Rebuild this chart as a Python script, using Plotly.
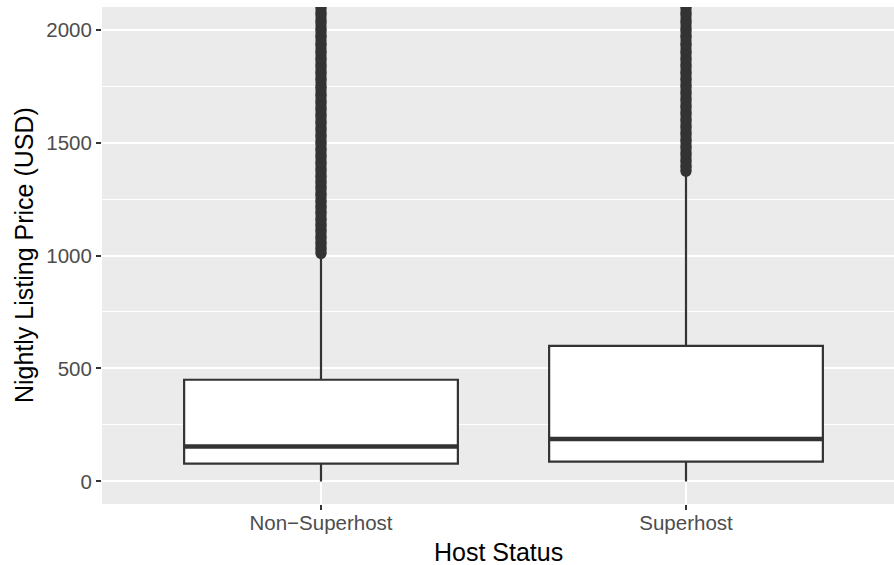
import plotly.graph_objects as go

# Box summary per host group
groups = ["Non\u2212Superhost", "Superhost"]
group_pos = [1, 2]
q1 = [79, 88]
median = [155, 188]
q3 = [450, 600]
lower_fence = [0, 0]
upper_fence = [1002, 1364]

# Outliers (dense, drawn as a solid column of points)
non_super_outliers = [1008, 1030, 1055, 1080, 1110, 1135, 1160, 1190, 1215, 1240,
                      1270, 1300, 1325, 1350, 1380, 1410, 1440, 1470, 1500, 1530,
                      1560, 1590, 1620, 1650, 1680, 1710, 1745, 1780, 1810, 1840,
                      1870, 1900, 1935, 1970, 2000, 2035, 2070, 2100, 2140]
super_outliers = [1372, 1395, 1420, 1450, 1480, 1510, 1540, 1570, 1600, 1630,
                  1660, 1690, 1720, 1750, 1780, 1810, 1840, 1870, 1900, 1935,
                  1970, 2000, 2035, 2070, 2100, 2140]

y_ticks = [0, 500, 1000, 1500, 2000]
y_minor = [250, 750, 1250, 1750]
box_width = 0.75
dark = "#333333"
font = "Liberation Sans, Arial, sans-serif"

fig = go.Figure()

for xs, ys in zip(group_pos, [non_super_outliers, super_outliers]):
    fig.add_trace(go.Scatter(
        x=[xs] * len(ys), y=ys, mode="lines+markers",
        line=dict(color=dark, width=11),
        marker=dict(color=dark, size=11, line=dict(width=0)),
        showlegend=False, hoverinfo="y",
    ))

fig.add_trace(go.Box(
    x=group_pos, q1=q1, median=median, q3=q3,
    lowerfence=lower_fence, upperfence=upper_fence,
    width=box_width, whiskerwidth=0,
    fillcolor="white", line=dict(color=dark, width=2.2),
    boxpoints=False, showlegend=False,
))

# thicker median bar, like ggplot
for xs, m in zip(group_pos, median):
    fig.add_trace(go.Scatter(
        x=[xs - box_width / 2, xs + box_width / 2], y=[m, m], mode="lines",
        line=dict(color=dark, width=4.5), showlegend=False, hoverinfo="skip",
    ))

fig.update_layout(
    width=894, height=565,
    margin=dict(l=102, r=0, t=7, b=61),
    paper_bgcolor="white",
    plot_bgcolor="#EBEBEB",
    font=dict(family=font, size=20.5, color="#4D4D4D"),
    xaxis=dict(
        range=[0.4, 0.4 + 792 / 365], tickvals=group_pos, ticktext=groups,
        showgrid=True, gridcolor="white", gridwidth=2, zeroline=False,
        ticks="outside", ticklen=5, tickwidth=2, tickcolor=dark,
        ticklabelstandoff=-5,
        tickfont=dict(size=20.5, color="#4D4D4D"),
        automargin=False, fixedrange=True,
    ),
    yaxis=dict(
        range=[-100, 2100], tickvals=y_ticks,
        showgrid=True, gridcolor="white", gridwidth=2, zeroline=False,
        minor=dict(tickvals=y_minor, showgrid=True,
                   gridcolor="white", gridwidth=1, ticks=""),
        ticks="outside", ticklen=5, tickwidth=2, tickcolor=dark,
        tickfont=dict(size=20.5, color="#4D4D4D"),
        automargin=False, fixedrange=True,
    ),
    annotations=[
        dict(text="Host Status", xref="paper", yref="paper", x=0.5, y=-0.097,
             xanchor="center", yanchor="middle", showarrow=False,
             font=dict(size=25, color="black")),
        dict(text="Nightly Listing Price (USD)", xref="paper", yref="paper",
             x=-0.099, y=0.5, xanchor="center", yanchor="middle", textangle=-90,
             showarrow=False, font=dict(size=25, color="black")),
    ],
)

fig.write_html("out.html", config={"displayModeBar": False},
               post_script="document.body.style.margin='0';")
